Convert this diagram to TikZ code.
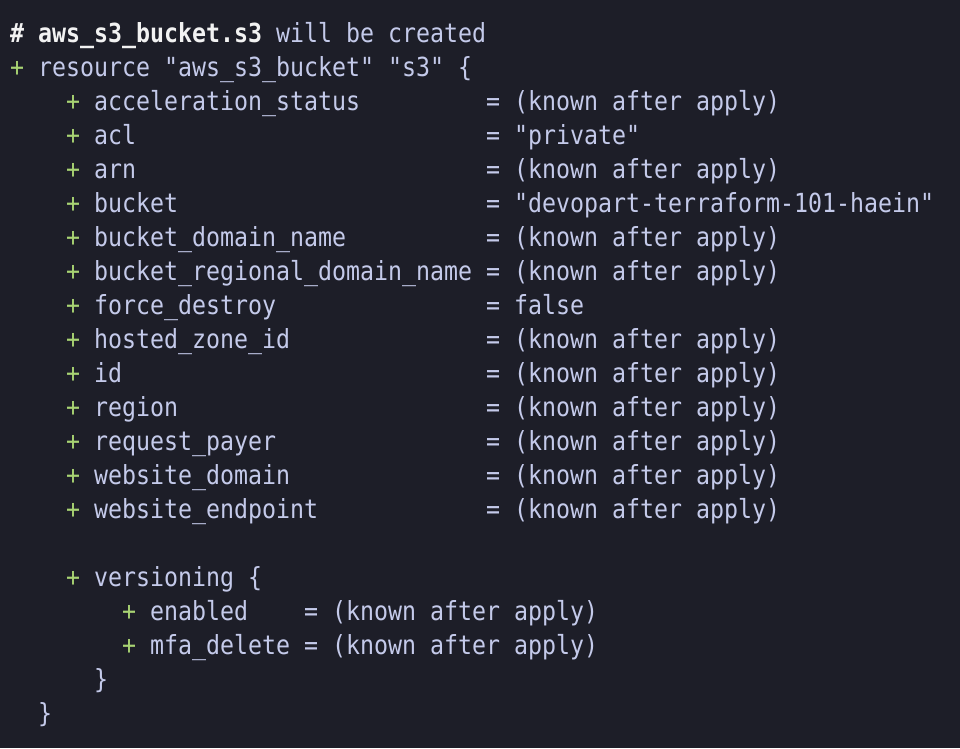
\documentclass[tikz,border=0pt]{standalone}
\usepackage{fontspec}
\setmonofont{DejaVu Sans Mono}[FakeStretch=0.884]
\usetikzlibrary{positioning}
\usepackage{xcolor}
\definecolor{termbg}{HTML}{1D1E28}
\definecolor{termtext}{HTML}{C4CAEA}
\definecolor{termplus}{HTML}{A8D373}
\definecolor{termhead}{HTML}{F2F2F2}

\newcommand{\kaa}{(known after apply)}

\begin{document}
\begin{tikzpicture}[x=1pt, y=-1pt,
  every node/.style={inner sep=0pt, anchor=base west, text=termtext,
    font=\ttfamily\fontsize{26.3}{30}\selectfont},
  plus/.style={text=termplus},
  head/.style={text=termhead, font=\ttfamily\bfseries\fontsize{26.3}{30}\selectfont}]

\fill[termbg] (0,0) rectangle (960,748);
\useasboundingbox (0,0) rectangle (960,748);

% kopfzeile
\node [head] (title) at ({10+14*0},{42+34*0}) {\# aws\_s3\_bucket.s3};
\node (title-note) at ({10+14*19},{42+34*0}) {will be created};

\node [plus] (plus-res) at ({10+14*0},{42+34*1}) {+};
\node (res) at ({10+14*2},{42+34*1}) {resource "aws\_s3\_bucket" "s3" \{};

% attribute
\foreach \n/\v [count=\r from 2] in {
    acceleration\_status/\kaa,
    acl/"private",
    arn/\kaa,
    bucket/"devopart-terraform-101-haein",
    bucket\_domain\_name/\kaa,
    bucket\_regional\_domain\_name/\kaa,
    force\_destroy/false,
    hosted\_zone\_id/\kaa,
    id/\kaa,
    region/\kaa,
    request\_payer/\kaa,
    website\_domain/\kaa,
    website\_endpoint/\kaa}
{
  \node [plus] (plus-\r) at ({10+14*4},{42+34*\r}) {+};
  \node (key-\r) at ({10+14*6},{42+34*\r}) {\n};
  \node (eq-\r) at ({10+14*34},{42+34*\r}) {=};
  \node (val-\r) at ({10+14*36},{42+34*\r}) {\v};
}

% versioning-block
\node [plus] (plus-ver) at ({10+14*4},{42+34*16}) {+};
\node (ver) at ({10+14*6},{42+34*16}) {versioning \{};

\foreach \n/\v [count=\r from 17] in {enabled/\kaa, mfa\_delete/\kaa}
{
  \node [plus] (plus-\r) at ({10+14*8},{42+34*\r}) {+};
  \node (key-\r) at ({10+14*10},{42+34*\r}) {\n};
  \node (eq-\r) at ({10+14*21},{42+34*\r}) {=};
  \node (val-\r) at ({10+14*23},{42+34*\r}) {\v};
}

\node (ver-end) at ({10+14*6},{42+34*19}) {\}};
\node (res-end) at ({10+14*2},{42+34*20}) {\}};

\end{tikzpicture}
\end{document}
